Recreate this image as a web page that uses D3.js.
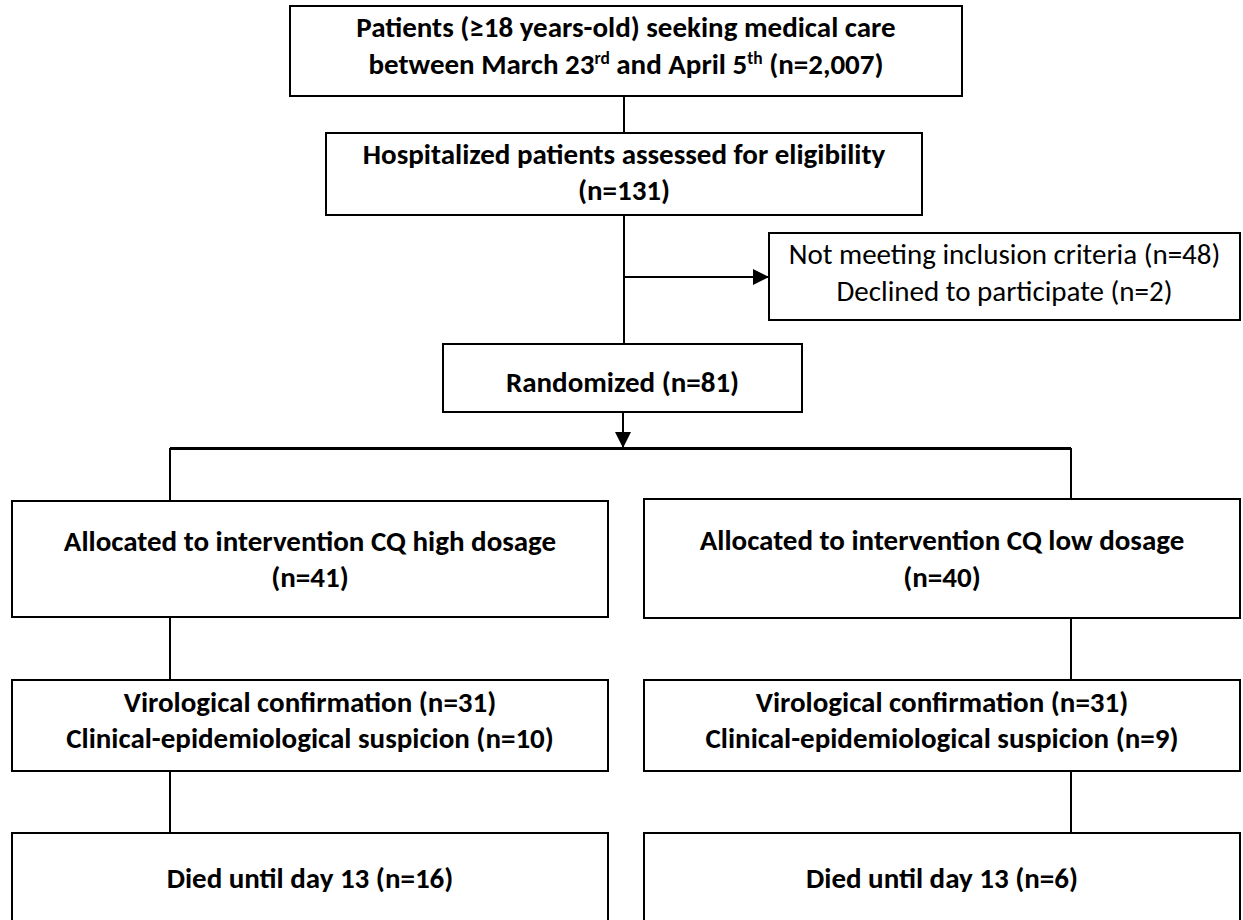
<!DOCTYPE html>
<html>
<head>
<meta charset="utf-8">
<script src="https://cdn.jsdelivr.net/npm/d3@7"></script>
<style>
  html, body { margin: 0; padding: 0; background: #fff; overflow: hidden; }
  text { font-family: Carlito, Lato, "Open Sans", sans-serif; fill: #000; }
</style>
</head>
<body>
<script>
// Texto de cada caja del diagrama (^xx = superíndice)
let boxIds = ["screened", "assessed", "excluded", "randomized",
              "allocHigh", "allocLow", "confHigh", "confLow", "diedHigh", "diedLow"];
let boxLines = [
    ["Patients (≥18 years-old) seeking medical care", "between March 23^rd and April 5^th (n=2,007)"],
    ["Hospitalized patients assessed for eligibility", "(n=131)"],
    ["Not meeting inclusion criteria (n=48)", "Declined to participate (n=2)"],
    ["Randomized (n=81)"],
    ["Allocated to intervention CQ high dosage", "(n=41)"],
    ["Allocated to intervention CQ low dosage", "(n=40)"],
    ["Virological confirmation (n=31)", "Clinical-epidemiological suspicion (n=10)"],
    ["Virological confirmation (n=31)", "Clinical-epidemiological suspicion (n=9)"],
    ["Died until day 13 (n=16)"],
    ["Died until day 13 (n=6)"]
];
let boxBold = [true, true, false, true, true, true, true, true, true, true];

let WIDTH = 1243, HEIGHT = 920;

// Posición de cada caja [x0, y0, x1, y1, desplazamiento vertical del texto]
let layout = {
    screened:   [290, 6, 962, 96, 4.5],
    assessed:   [326, 133, 922, 215, 8],
    excluded:   [769, 233, 1240, 320, 6],
    randomized: [443, 344, 802, 412, 14],
    allocHigh:  [12, 501, 608, 617, 10],
    allocLow:   [644, 499, 1240, 618, 10],
    confHigh:   [12, 680, 608, 771, 4.5],
    confLow:    [644, 680, 1240, 771, 4.5],
    diedHigh:   [12, 833, 608, 926, 8.5],
    diedLow:    [644, 833, 1240, 926, 8.5]
};

let svg = d3.select("body").append("svg")
            .attr("width", WIDTH)
            .attr("height", HEIGHT);

let defs = svg.append("defs");
defs.append("marker")
    .attr("id", "arrow")
    .attr("viewBox", "0 0 16 16")
    .attr("refX", 16).attr("refY", 8)
    .attr("markerWidth", 16).attr("markerHeight", 16)
    .attr("markerUnits", "userSpaceOnUse")
    .attr("orient", "auto")
  .append("path")
    .attr("d", "M0,0L16,8L0,16Z")
    .attr("fill", "#000");

let fontSize = 29, lineH = 36.5;

let boxes = boxIds.map((id, i) => {
    let r = layout[id];
    return {id: id, x0: r[0], y0: r[1], x1: r[2], y1: r[3], dy: r[4],
            lines: boxLines[i], bold: boxBold[i]};
});

let byId = {};
boxes.forEach(b => byId[b.id] = b);
let cx = b => (b.x0 + b.x1) / 2;

// Conectores
let connectors = [
    {pts: [[624, byId.screened.y1], [624, byId.assessed.y0]]},
    {pts: [[624, byId.assessed.y1], [624, byId.randomized.y0]]},
    {pts: [[624, 277], [byId.excluded.x0, 277]], arrow: true},
    {pts: [[623, byId.randomized.y1], [623, 448]], arrow: true},
    {pts: [[170, 448.5], [1071, 448.5]], w: 3},
    {pts: [[170, 448], [170, byId.allocHigh.y0]]},
    {pts: [[1071, 448], [1071, byId.allocLow.y0]]},
    {pts: [[170, byId.allocHigh.y1], [170, byId.confHigh.y0]]},
    {pts: [[1071, byId.allocLow.y1], [1071, byId.confLow.y0]]},
    {pts: [[170, byId.confHigh.y1], [170, byId.diedHigh.y0]]},
    {pts: [[1071, byId.confLow.y1], [1071, byId.diedLow.y0]]}
];

let line = d3.line();
svg.append("g").attr("class", "links")
   .selectAll("path")
   .data(connectors)
   .enter()
   .append("path")
     .attr("d", d => line(d.pts))
     .attr("fill", "none")
     .attr("stroke", "#000")
     .attr("stroke-width", d => d.w || 2)
     .attr("marker-end", d => d.arrow ? "url(#arrow)" : null);

let nodes = svg.append("g").attr("class", "boxes")
               .selectAll("g")
               .data(boxes)
               .enter()
               .append("g");

nodes.append("rect")
     .attr("x", d => d.x0).attr("y", d => d.y0)
     .attr("width", d => d.x1 - d.x0)
     .attr("height", d => d.y1 - d.y0)
     .attr("fill", "#fff")
     .attr("stroke", "#000")
     .attr("stroke-width", 2);

nodes.each(function(d) {
    let g = d3.select(this);
    let cy = (d.y0 + d.y1) / 2 + d.dy;
    d.lines.forEach((txt, i) => {
        let baseline = cy + (i - (d.lines.length - 1) / 2) * lineH;
        let t = g.append("text")
                 .attr("x", cx(d))
                 .attr("y", baseline)
                 .attr("text-anchor", "middle")
                 .attr("font-size", fontSize)
                 .attr("font-weight", d.bold ? 700 : 400);
        // partir en trozos normales y superíndices
        let parts = txt.split(/\^(\w+)/);
        let raise = 0;
        parts.forEach((p, k) => {
            if (p === "") return;
            if (k % 2 === 1) {
                t.append("tspan").attr("dy", -10).attr("font-size", fontSize * 0.6).text(p);
                raise = 10;
            } else {
                t.append("tspan").attr("dy", raise || null).text(p);
                raise = 0;
            }
        });
    });
});
</script>
</body>
</html>
